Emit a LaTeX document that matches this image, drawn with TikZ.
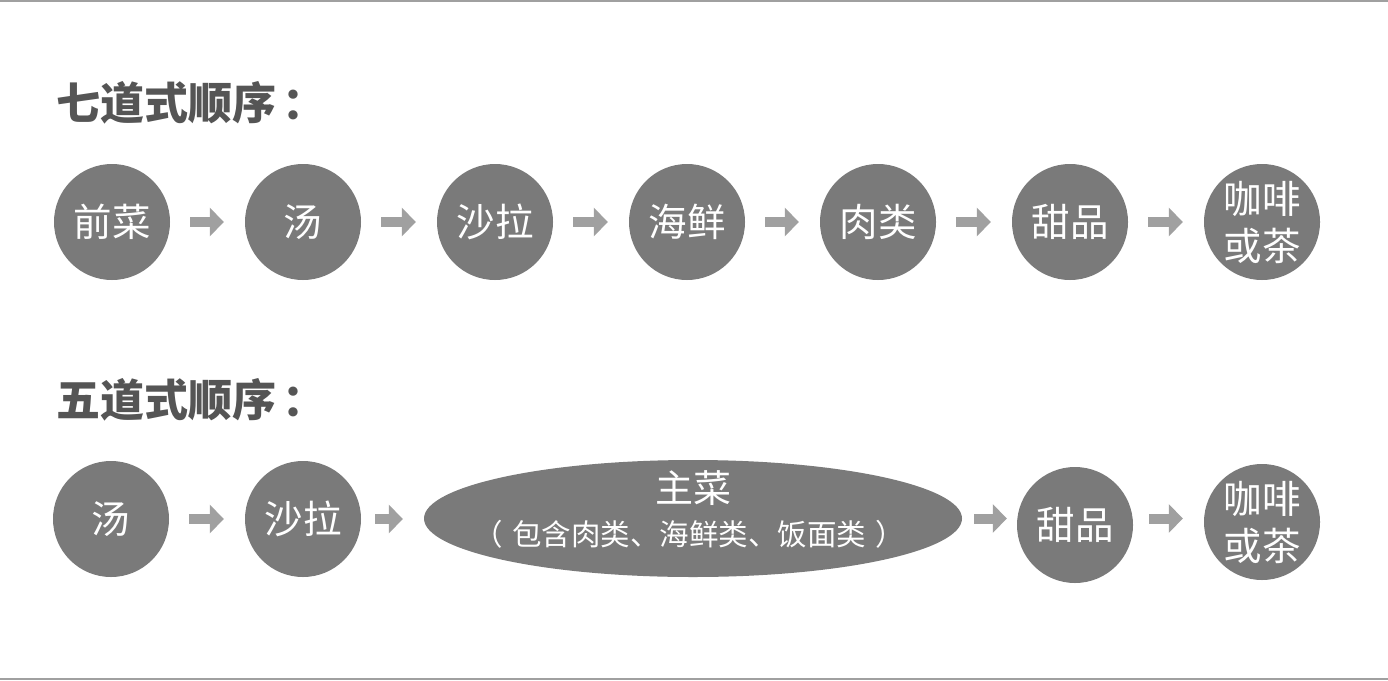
\documentclass[tikz,border=0pt]{standalone}
\usepackage{fontspec}
\usetikzlibrary{arrows.meta,shapes.geometric}
\newfontfamily\cjk{Noto Sans CJK SC}
\definecolor{dishgray}{RGB}{122,122,122}
\definecolor{arrgray}{RGB}{160,160,160}
\definecolor{titlegray}{RGB}{85,85,85}
\definecolor{rulegray}{RGB}{160,160,160}
\tikzset{
  dish/.style={circle,fill=dishgray,minimum size=116pt,inner sep=0pt,text=white,align=center,
    font=\cjk\fontsize{38.5}{47}\selectfont},
  maindish/.style={ellipse,fill=dishgray,minimum width=538pt,minimum height=117pt,inner sep=0pt},
  dishtext/.style={text=white,inner sep=0pt},
  titletext/.style={anchor=west,inner sep=0pt,text=titlegray,font=\cjk\bfseries\fontsize{44}{52}\selectfont},
  arr/.style={draw=arrgray,line width=10pt,-{Triangle[length=14pt,width=28pt]}}
}
\begin{document}
\begin{tikzpicture}[x=1pt,y=-1pt]
\useasboundingbox (0,0) rectangle (1388,680);
\fill[white] (0,0) rectangle (1388,680);
\fill[rulegray] (0,0) rectangle (1388,1.5);
\fill[rulegray] (0,677.5) rectangle (1388,680);

% titles
\node[titletext] (t7) at (56,103) {七道式顺序\hspace{6pt}：};
\node[titletext] (t5) at (56,400) {五道式顺序\hspace{6pt}：};

% seven course
\node[dish] (a1) at (112,222) {前菜};
\node[dish] (a2) at (303,222) {汤};
\node[dish] (a3) at (495,222) {沙拉};
\node[dish] (a4) at (687,222) {海鲜};
\node[dish] (a5) at (878,222) {肉类};
\node[dish] (a6) at (1070,222) {甜品};
\node[dish] (a7) at (1262,222) {咖啡\\或茶};

\foreach \p/\q in {a1/a2,a2/a3,a3/a4,a4/a5,a5/a6,a6/a7}{
  \draw[arr] ([xshift=20pt]\p.east) -- ([xshift=-21pt]\q.west |- \p.east);
}

% five course
\node[dish] (b1) at (111,519) {汤};
\node[dish] (b2) at (303,519) {沙拉};
\node[maindish] (b3) at (693,518.5) {};
\node[dishtext,font=\cjk\fontsize{38}{46}\selectfont] (b3a) at ([yshift=30pt]b3.center) {主菜};
\node[dishtext,font=\cjk\fontsize{29.5}{35}\selectfont] (b3b) at ([xshift=-4pt,yshift=-16pt]b3.center) {（\hspace{9pt}包含肉类、海鲜类、饭面类\hspace{9pt}）};
\node[dish] (b4) at (1075,525) {甜品};
\node[dish] (b5) at (1262,522) {咖啡\\或茶};

\draw[arr] ([xshift=20pt]b1.east) -- ([xshift=-21pt]b2.west |- b1.east);
\draw[arr] ([xshift=14pt]b2.east) -- ([xshift=-21pt]b3.west |- b2.east);
\draw[arr] ([xshift=12pt]b3.east) -- ([xshift=-10pt]b4.west |- b3.east);
\draw[arr] ([xshift=16pt]b4.east |- b3.east) -- ([xshift=-21pt]b5.west |- b3.east);
\end{tikzpicture}
\end{document}
